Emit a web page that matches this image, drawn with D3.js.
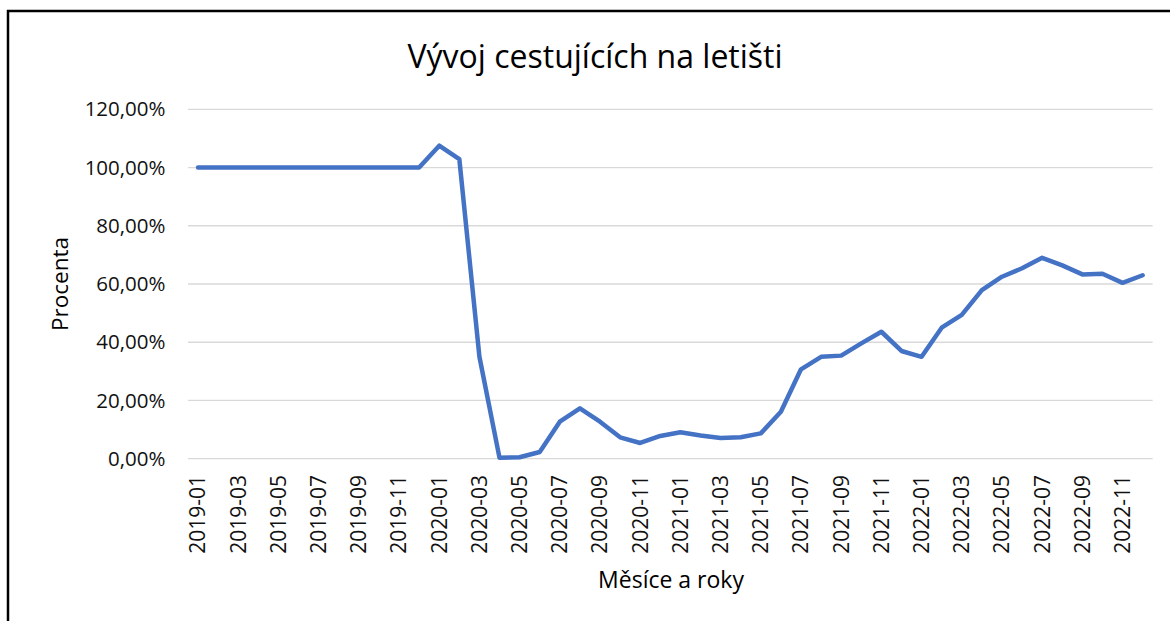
<!DOCTYPE html>
<html>
<head>
<meta charset="utf-8">
<script src="https://cdn.jsdelivr.net/npm/d3@7"></script>
<style>
  body { margin: 0; background: #fff; }
  svg { display: block; font-family: "Open Sans", sans-serif; }
</style>
</head>
<body>
<svg id="chart" width="1170" height="621"></svg>
<script>
// months (categories)
const months = [
  '2019-01','2019-02','2019-03','2019-04','2019-05','2019-06','2019-07','2019-08','2019-09','2019-10','2019-11','2019-12',
  '2020-01','2020-02','2020-03','2020-04','2020-05','2020-06','2020-07','2020-08','2020-09','2020-10','2020-11','2020-12',
  '2021-01','2021-02','2021-03','2021-04','2021-05','2021-06','2021-07','2021-08','2021-09','2021-10','2021-11','2021-12',
  '2022-01','2022-02','2022-03','2022-04','2022-05','2022-06','2022-07','2022-08','2022-09','2022-10','2022-11','2022-12'
];
// share of passengers vs. 2019 (fraction)
const passengers = [
  1.00, 1.00, 1.00, 1.00, 1.00, 1.00, 1.00, 1.00, 1.00, 1.00, 1.00, 1.00,
  1.075, 1.029, 0.350, 0.003, 0.005, 0.023, 0.127, 0.173, 0.127, 0.0735, 0.054, 0.078,
  0.0907, 0.080, 0.071, 0.0735, 0.087, 0.161, 0.307, 0.350, 0.354, 0.396, 0.436, 0.370,
  0.350, 0.450, 0.494, 0.579, 0.625, 0.654, 0.690, 0.664, 0.633, 0.635, 0.604, 0.630
];
const yTicks = [0, 0.2, 0.4, 0.6, 0.8, 1.0, 1.2];
const xTickLabels = months.filter((m, i) => i % 2 === 0);

const svg = d3.select('#chart');

svg.append('rect')
   .attr('width', 1170).attr('height', 621).attr('fill', '#fff');

// chart frame (runs off the right/bottom of the picture)
svg.append('rect')
   .attr('x', 8).attr('y', 11)
   .attr('width', 1300).attr('height', 800)
   .attr('fill', 'none')
   .attr('stroke', '#000')
   .attr('stroke-width', 2.5);

const x = d3.scalePoint()
            .domain(months)
            .range([188, 1152.7])
            .padding(0.5);

const y = d3.scaleLinear()
            .domain([0, 1.2])
            .range([458.7, 109.3]);

const fmt = v => d3.format('.2%')(v).replace('.', ',');

// gridlines
svg.append('g')
   .selectAll('line')
   .data(yTicks)
   .enter()
   .append('line')
   .attr('x1', 188).attr('x2', 1152.7)
   .attr('y1', d => y(d)).attr('y2', d => y(d))
   .attr('stroke', '#d9d9d9')
   .attr('stroke-width', 1.3);

// y labels
svg.append('g')
   .selectAll('text')
   .data(yTicks)
   .enter()
   .append('text')
   .attr('x', 165.5)
   .attr('y', d => y(d))
   .attr('dy', '0.35em')
   .attr('text-anchor', 'end')
   .attr('font-size', 20.5)
   .attr('fill', '#111')
   .text(fmt);

// x labels
svg.append('g')
   .selectAll('text')
   .data(xTickLabels)
   .enter()
   .append('text')
   .attr('transform', d => `translate(${x(d)},475) rotate(-90)`)
   .attr('dy', '0.35em')
   .attr('text-anchor', 'end')
   .attr('font-size', 21)
   .attr('fill', '#111')
   .text(d => d);

// line
const line = d3.line()
               .x((d, i) => x(months[i]))
               .y(d => y(d));

svg.append('path')
   .datum(passengers)
   .attr('d', line)
   .attr('fill', 'none')
   .attr('stroke', '#4472C4')
   .attr('stroke-width', 4.5)
   .attr('stroke-linejoin', 'round')
   .attr('stroke-linecap', 'round');

// titles
svg.append('text')
   .attr('x', 595).attr('y', 68)
   .attr('text-anchor', 'middle')
   .attr('font-size', 32)
   .attr('fill', '#000')
   .text('Vývoj cestujících na letišti');

svg.append('text')
   .attr('x', 671).attr('y', 588)
   .attr('text-anchor', 'middle')
   .attr('font-size', 23)
   .attr('fill', '#000')
   .text('Měsíce a roky');

svg.append('text')
   .attr('transform', 'translate(68,284) rotate(-90)')
   .attr('text-anchor', 'middle')
   .attr('font-size', 22.5)
   .attr('fill', '#000')
   .text('Procenta');
</script>
</body>
</html>
